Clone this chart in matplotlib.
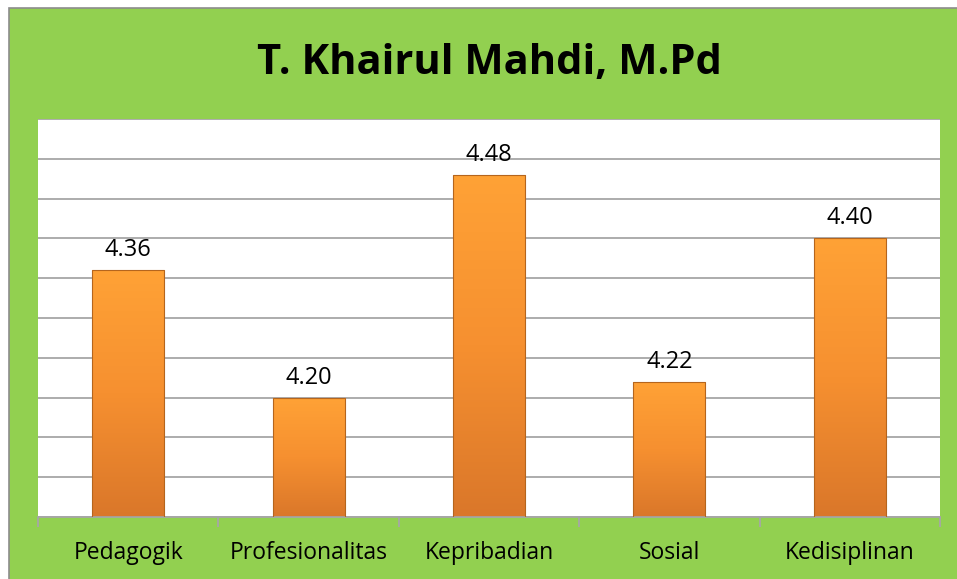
import matplotlib.pyplot as plt
import numpy as np
from matplotlib.colors import LinearSegmentedColormap
from matplotlib.patches import Rectangle

categories = ["Pedagogik", "Profesionalitas", "Kepribadian", "Sosial", "Kedisiplinan"]
scores = [4.36, 4.20, 4.48, 4.22, 4.40]
labels = ["4.36", "4.20", "4.48", "4.22", "4.40"]

green = "#92D050"
grid_gray = "#A6A6A6"

fig = plt.figure(figsize=(9.57, 5.79), dpi=100)
fig.patch.set_facecolor("white")
# chart frame (green panel with thin grey border)
fig.patches.append(Rectangle((8.5 / 957, -0.05), 1.1, 1.05 - 7.5 / 579, transform=fig.transFigure,
                             facecolor=green, edgecolor="#8C8C8C", linewidth=1.2, zorder=-1))

ax = fig.add_axes([38 / 957, 1 - 517 / 579, (940 - 38) / 957, (517 - 119) / 579])
ax.set_facecolor("white")
ax.set_xlim(-0.5, 4.5)
ax.set_ylim(4.05, 4.55)
ax.set_yticks(np.arange(4.05, 4.551, 0.05))
ax.yaxis.grid(True, color=grid_gray, linewidth=1.3)
ax.set_axisbelow(True)
ax.tick_params(axis="y", left=False, labelleft=False)
for s in ["left", "right", "top"]:
    ax.spines[s].set_visible(False)
ax.spines["bottom"].set_color(grid_gray)
ax.spines["bottom"].set_linewidth(1.3)

ax.set_xticks(np.arange(-0.5, 4.6, 1.0))
ax.set_xticklabels([])
ax.tick_params(axis="x", length=7, width=1.3, color=grid_gray)
ax.set_xticks(range(len(categories)), minor=True)
ax.set_xticklabels(categories, minor=True, fontsize=16.5, family="Open Sans")
ax.tick_params(axis="x", which="minor", length=0, pad=17)

cmap = LinearSegmentedColormap.from_list("org", ["#FFA236", "#F69030", "#DA772A"])
grad = np.linspace(0, 1, 256).reshape(-1, 1)
width = 0.4
bars = ax.bar(range(len(categories)), [v - 4.05 for v in scores], bottom=4.05, width=width,
              color="none", edgecolor="#B5651D", linewidth=0.8, zorder=3)
for b, v, lab in zip(bars, scores, labels):
    x0 = b.get_x()
    im = ax.imshow(grad, cmap=cmap, extent=[x0, x0 + width, 4.05, v], aspect="auto",
                   origin="upper", zorder=2)
    im.set_clip_path(b)
    ax.text(b.get_x() + width / 2, v + 0.0175, lab, ha="center", va="baseline",
            fontsize=17, family="Open Sans")
ax.set_xlim(-0.5, 4.5)
ax.set_ylim(4.05, 4.55)

fig.text(489 / 957, 1 - 74 / 579, "T. Khairul Mahdi, M.Pd", ha="center", va="baseline",
         fontsize=30, fontweight="bold", family="Open Sans")

fig.savefig("out.png", dpi=100, facecolor=fig.get_facecolor())
